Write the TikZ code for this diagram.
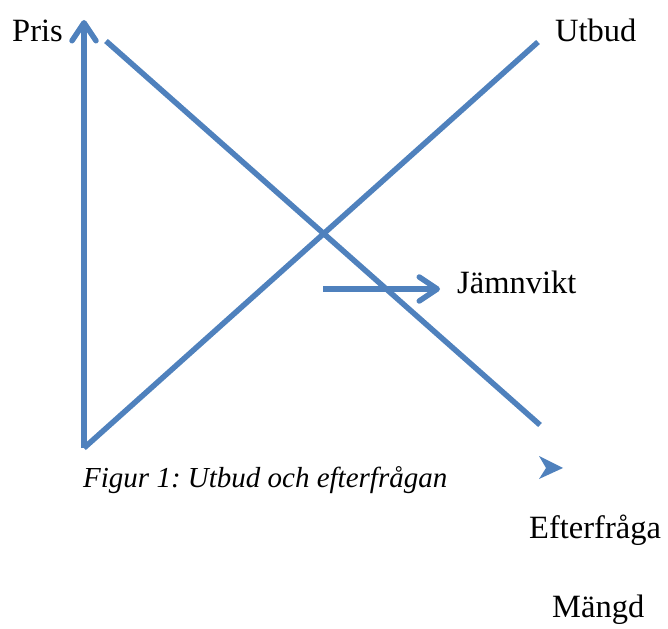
\documentclass[tikz,border=0pt]{standalone}
\usepackage{fontspec}
\setmainfont{Liberation Serif}
\usetikzlibrary{arrows.meta}
\definecolor{lineblue}{RGB}{79,129,189}
\frenchspacing
\begin{document}
\begin{tikzpicture}[x=1pt,y=-1pt,
  bline/.style={draw=lineblue,line width=5.5pt},
  barb/.style={-{Straight Barb[length=18pt,width=24pt,line width=5.5pt,round]}},
  lbl/.style={anchor=base west,inner sep=0pt,font=\fontsize{32.5}{38}\selectfont},
  figcap/.style={anchor=base west,inner sep=0pt,font=\fontsize{29}{34}\selectfont\itshape}]
\useasboundingbox (0,0) rectangle (668,628);
\coordinate (O) at (84,448);
\coordinate (Ptop) at (84,20);
\coordinate (Send) at (538,42);
\coordinate (Dstart) at (106,41);
\coordinate (Dend) at (540,425);
\coordinate (Jstart) at (323,289);
\coordinate (Jend) at (440,289);
\draw[bline,barb] (O) -- (Ptop);
\draw[bline] (O) -- (Send);
\draw[bline] (Dstart) -- (Dend);
\draw[bline,barb] (Jstart) -- (Jend);
\fill[lineblue] (539,456) -- (563,468) -- (539,479) -- (546,468) -- cycle;
\node[lbl] (pris) at (12,42) {Pris};
\node[lbl] (utbud) at (555,42) {Utbud};
\node[lbl] (jamn) at (457,293) {Jämnvikt};
\node[lbl] (eft) at (529,538) {Efterfråga};
\node[lbl] (mangd) at (552,617) {Mängd};
\node[figcap] (caption) at (83,487) {Figur 1: Utbud och efterfrågan};
\end{tikzpicture}
\end{document}
